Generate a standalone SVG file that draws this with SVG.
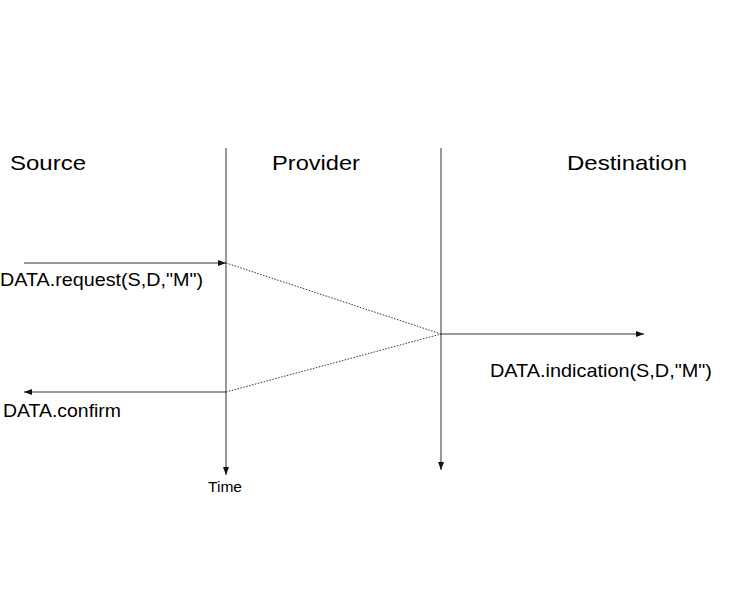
<svg xmlns="http://www.w3.org/2000/svg" width="756" height="593" viewBox="0 0 756 593">
<defs>
<style>
text{font-family:"Liberation Sans",Arial,sans-serif;fill:#000}
.h{font-size:21px}
.l{font-size:19px}
.life{stroke:#777;stroke-width:1.5;fill:none}
.msg{stroke:#333;stroke-width:1;fill:none}
.dot{stroke:#333;stroke-width:1;stroke-dasharray:1.5 1.5;fill:none}
</style>
<marker id="ah" viewBox="0 0 8 6" refX="8" refY="3" markerWidth="8" markerHeight="6" orient="auto" markerUnits="userSpaceOnUse">
<path d="M0,0 L8,3 L0,6 z" fill="#111"/>
</marker>
</defs>
<rect width="756" height="593" fill="#fff"/>
<g id="source"><text class="h" x="10" y="170" textLength="76" lengthAdjust="spacingAndGlyphs">Source</text></g>
<g id="provider"><text class="h" x="272" y="170" textLength="88" lengthAdjust="spacingAndGlyphs">Provider</text></g>
<g id="destination"><text class="h" x="567" y="170" textLength="120" lengthAdjust="spacingAndGlyphs">Destination</text></g>
<g id="lifelines">
<line class="life" x1="226" y1="148" x2="226" y2="475" marker-end="url(#ah)"/>
<line class="life" x1="441" y1="148" x2="441" y2="470" marker-end="url(#ah)"/>
</g>
<g id="connectors">
<line class="msg" x1="24" y1="263" x2="226" y2="263" marker-end="url(#ah)"/>
<line class="msg" x1="226" y1="392" x2="24" y2="392" marker-end="url(#ah)"/>
<line class="msg" x1="441" y1="334" x2="644" y2="334" marker-end="url(#ah)"/>
<line class="dot" x1="226" y1="263" x2="441" y2="334"/>
<line class="dot" x1="226" y1="392" x2="441" y2="334"/>
</g>
<g id="labels">
<text class="l" x="0" y="286" textLength="203" lengthAdjust="spacingAndGlyphs">DATA.request(S,D,"M")</text>
<text class="l" x="3" y="417" textLength="118" lengthAdjust="spacingAndGlyphs">DATA.confirm</text>
<text class="l" x="490" y="377" textLength="222" lengthAdjust="spacingAndGlyphs">DATA.indication(S,D,"M")</text>
<text x="208" y="492" font-size="14.5" textLength="34" lengthAdjust="spacingAndGlyphs">Time</text>
</g>
</svg>
